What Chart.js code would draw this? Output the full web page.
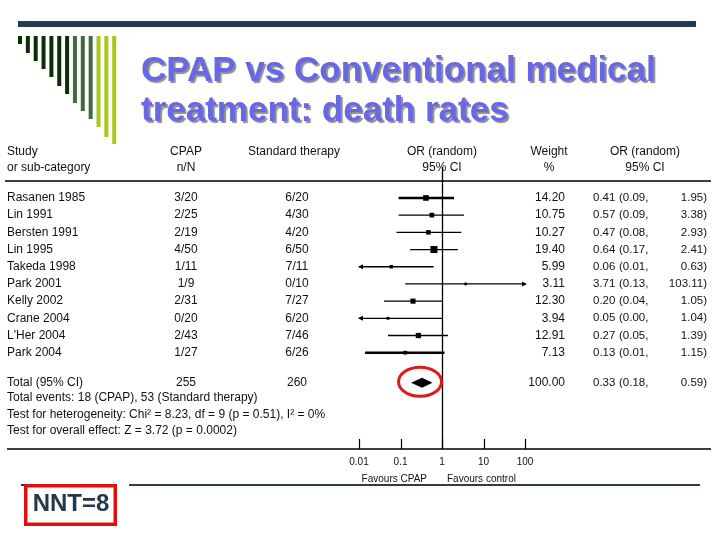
<!DOCTYPE html>
<html><head><meta charset="utf-8">
<script src="https://cdn.jsdelivr.net/npm/chart.js@4.4.0/dist/chart.umd.min.js"></script>
<style>html,body{margin:0;padding:0;background:#fff;}canvas{display:block;}</style>
</head><body>
<canvas id="c" width="720" height="540"></canvas>
<script>
// ---- data ----
const titleLines = ['CPAP vs Conventional medical', 'treatment: death rates'];
const studies = ['Rasanen 1985','Lin 1991','Bersten 1991','Lin 1995','Takeda 1998','Park 2001','Kelly 2002','Crane 2004',"L'Her 2004",'Park 2004'];
const cpapEvents = ['3/20','2/25','2/19','4/50','1/11','1/9','2/31','0/20','2/43','1/27'];
const stdEvents = ['6/20','4/30','4/20','6/50','7/11','0/10','7/27','6/20','7/46','6/26'];
const weights = [14.20,10.75,10.27,19.40,5.99,3.11,12.30,3.94,12.91,7.13];
const oddsRatios = [0.41,0.57,0.47,0.64,0.06,3.71,0.20,0.05,0.27,0.13];
const ciLower = [0.09,0.09,0.08,0.17,0.006,0.13,0.04,0.004,0.05,0.014];
const ciUpper = [1.95,3.38,2.93,2.41,0.63,103.11,1.05,1.04,1.39,1.15];
const totalLabel = 'Total (95% CI)';
const totalCpap = '255';
const totalStd = '260';
const totalWeight = 100.00;
const totalOR = 0.33;
const totalLower = 0.18;
const totalUpper = 0.59;
const footnotes = [
  'Total events: 18 (CPAP), 53 (Standard therapy)',
  'Test for heterogeneity: Chi\u00b2 = 8.23, df = 9 (p = 0.51), I\u00b2 = 0%',
  'Test for overall effect: Z = 3.72 (p = 0.0002)'
];
const tickValues = [0.01, 0.1, 1, 10, 100];
const tickLabels = ['0.01', '0.1', '1', '10', '100'];
const favourLabels = ['Favours CPAP', 'Favours control'];
const nntText = 'NNT=8';

// ---- layout constants ----
const FONT = '"Liberation Sans", Arial, sans-serif';
const xMin = 0.01, xMax = 100;
const TOTAL_ROW = 11.75;
const FOOT_ROWS = [12.63, 13.58, 14.56];

const datasets = [];
studies.forEach((s, i) => {
  datasets.push({
    type: 'line',
    data: [{x: Math.max(ciLower[i], xMin), y: i + 1}, {x: Math.min(ciUpper[i], xMax), y: i + 1}],
    borderColor: '#000',
    borderWidth: (i === 0 || i === 9) ? 2.4 : 1.3,
    pointRadius: 0,
    fill: false
  });
});
datasets.push({
  type: 'scatter',
  data: studies.map((s, i) => ({x: oddsRatios[i], y: i + 1})),
  pointStyle: 'rect',
  pointRadius: ctx => (1.8 + weights[ctx.dataIndex] * 0.27) / Math.SQRT2,
  backgroundColor: '#000',
  borderWidth: 0
});

const forestPlugin = {
  id: 'forest',
  beforeDraw(chart) {
    const ctx = chart.ctx;
    const xs = chart.scales.x;
    ctx.save();
    ctx.fillStyle = '#fff';
    ctx.fillRect(0, 0, 720, 540);
    // top bar
    ctx.fillStyle = '#243b55';
    ctx.fillRect(18, 21, 678, 6);
    // stripes
    const bottoms = [44,53,61,69,77,86,94,103,111,119,127,137,144];
    bottoms.forEach((b, i) => {
      ctx.fillStyle = i < 7 ? '#0b2e06' : (i < 10 ? '#3f6a3c' : '#a6c91c');
      ctx.fillRect(18 + i * 7.85, 36, 4, b - 36);
    });
    // title
    ctx.font = 'bold 35px ' + FONT;
    ctx.textBaseline = 'alphabetic';
    ctx.textAlign = 'left';
    ctx.shadowColor = 'rgba(130,130,130,0.9)';
    ctx.shadowOffsetX = 2; ctx.shadowOffsetY = 2; ctx.shadowBlur = 1;
    ctx.fillStyle = '#6868e6';
    ctx.fillText(titleLines[0], 141, 81);
    ctx.fillText(titleLines[1], 141, 121);
    ctx.shadowColor = 'transparent';
    ctx.shadowOffsetX = 0; ctx.shadowOffsetY = 0; ctx.shadowBlur = 0;

    // header text
    ctx.fillStyle = '#111';
    ctx.font = '12px ' + FONT;
    ctx.textBaseline = 'middle';
    ctx.textAlign = 'left';
    ctx.fillText('Study', 7, 152);
    ctx.fillText('or sub-category', 7, 168);
    ctx.textAlign = 'center';
    ctx.fillText('CPAP', 186, 152); ctx.fillText('n/N', 186, 168);
    ctx.fillText('Standard therapy', 294, 152);
    ctx.fillText('OR (random)', 442, 152); ctx.fillText('95% CI', 442, 168);
    ctx.fillText('Weight', 549, 152); ctx.fillText('%', 549, 168);
    ctx.fillText('OR (random)', 645, 152); ctx.fillText('95% CI', 645, 168);

    ctx.strokeStyle = '#000';
    ctx.lineWidth = 1.3;
    ctx.beginPath(); ctx.moveTo(5, 181); ctx.lineTo(711, 181); ctx.stroke();

    // axis line across full width
    const ca = chart.chartArea;
    ctx.beginPath(); ctx.moveTo(7, ca.bottom); ctx.lineTo(711, ca.bottom); ctx.stroke();
    // vertical line at OR = 1
    const x1 = Math.round(xs.getPixelForValue(1)) + 0.5;
    ctx.lineWidth = 1.3;
    ctx.beginPath(); ctx.moveTo(x1, ca.top); ctx.lineTo(x1, ca.bottom); ctx.stroke();
    // tick marks (upward)
    ctx.lineWidth = 1.2;
    tickValues.forEach(v => {
      const px = Math.round(xs.getPixelForValue(v)) + 0.5;
      ctx.beginPath(); ctx.moveTo(px, ca.bottom - 10); ctx.lineTo(px, ca.bottom); ctx.stroke();
    });
    // favours labels
    ctx.font = '10px ' + FONT;
    ctx.textBaseline = 'middle';
    ctx.textAlign = 'right';
    ctx.fillText(favourLabels[0], xs.getPixelForValue(1) - 15, 479);
    ctx.textAlign = 'left';
    ctx.fillText(favourLabels[1], xs.getPixelForValue(1) + 5, 479);

    // bottom line
    ctx.strokeStyle = '#2b3d4f';
    ctx.lineWidth = 2;
    ctx.beginPath(); ctx.moveTo(129, 485); ctx.lineTo(700, 485); ctx.stroke();
    ctx.beginPath(); ctx.moveTo(21, 485); ctx.lineTo(25, 485); ctx.stroke();
    // NNT box
    ctx.strokeStyle = '#e01010';
    ctx.lineWidth = 3.5;
    ctx.strokeRect(25.75, 485.75, 89.5, 38.5);
    ctx.fillStyle = '#23384d';
    ctx.font = 'bold 24px ' + FONT;
    ctx.textAlign = 'center';
    ctx.textBaseline = 'middle';
    ctx.fillText(nntText, 71, 504);
    ctx.restore();
  },
  afterDatasetsDraw(chart) {
    const ctx = chart.ctx;
    const xs = chart.scales.x, ys = chart.scales.y;
    ctx.save();
    // arrows for truncated CIs
    ctx.fillStyle = '#000';
    studies.forEach((s, i) => {
      const y = ys.getPixelForValue(i + 1);
      if (ciLower[i] < xMin) {
        const x = xs.getPixelForValue(xMin) - 1;
        ctx.beginPath(); ctx.moveTo(x, y); ctx.lineTo(x + 5, y - 2.5); ctx.lineTo(x + 5, y + 2.5); ctx.closePath(); ctx.fill();
      }
      if (ciUpper[i] > xMax) {
        const x = xs.getPixelForValue(xMax) + 2;
        ctx.beginPath(); ctx.moveTo(x, y); ctx.lineTo(x - 5, y - 2.5); ctx.lineTo(x - 5, y + 2.5); ctx.closePath(); ctx.fill();
      }
    });
    // total diamond
    const ty = ys.getPixelForValue(TOTAL_ROW);
    const tx = xs.getPixelForValue(totalOR);
    ctx.beginPath();
    ctx.moveTo(xs.getPixelForValue(totalLower), ty);
    ctx.lineTo(tx, ty - 5);
    ctx.lineTo(xs.getPixelForValue(totalUpper), ty);
    ctx.lineTo(tx, ty + 5);
    ctx.closePath();
    ctx.fill();
    // red ellipse
    ctx.strokeStyle = '#dd1a1a';
    ctx.lineWidth = 3;
    ctx.beginPath();
    ctx.ellipse(tx - 2, ty - 1, 21.5, 14.5, 0, 0, Math.PI * 2);
    ctx.stroke();

    // table text
    ctx.fillStyle = '#111';
    ctx.textBaseline = 'middle';
    const rowText = (y, name, c, st, w, or, lo, hi) => {
      ctx.font = '12px ' + FONT;
      ctx.textAlign = 'left'; ctx.fillText(name, 7, y);
      ctx.textAlign = 'center'; ctx.fillText(c, 186, y); ctx.fillText(st, 297, y);
      ctx.textAlign = 'right'; ctx.fillText(w.toFixed(2), 565, y);
      ctx.font = '11.5px ' + FONT;
      ctx.textAlign = 'left'; ctx.fillText(or.toFixed(2), 593, y);
      ctx.fillText('(' + lo.toFixed(2) + ',', 619, y);
      ctx.textAlign = 'right'; ctx.fillText(hi.toFixed(2) + ')', 707, y);
    };
    studies.forEach((s, i) => {
      rowText(ys.getPixelForValue(i + 1), s, cpapEvents[i], stdEvents[i], weights[i], oddsRatios[i], ciLower[i], ciUpper[i]);
    });
    rowText(ty, totalLabel, totalCpap, totalStd, totalWeight, totalOR, totalLower, totalUpper);
    ctx.font = '12px ' + FONT;
    ctx.textAlign = 'left';
    footnotes.forEach((f, i) => ctx.fillText(f, 7, ys.getPixelForValue(FOOT_ROWS[i])));
    ctx.restore();
  }
};

new Chart(document.getElementById('c'), {
  type: 'scatter',
  data: {datasets},
  plugins: [forestPlugin],
  options: {
    responsive: false,
    animation: false,
    events: [],
    layout: {padding: {left: 359, right: 195, top: 167, bottom: 51}},
    plugins: {legend: {display: false}, tooltip: {enabled: false}},
    scales: {
      x: {
        type: 'logarithmic', min: xMin, max: xMax, position: 'bottom',
        afterBuildTicks: s => { s.ticks = tickValues.map(v => ({value: v})); },
        afterFit: s => { s.height = 40; },
        grid: {display: false, drawTicks: false},
        border: {display: false},
        ticks: {
          callback: (v) => { const k = tickValues.indexOf(v); return k >= 0 ? tickLabels[k] : ''; },
          font: {size: 10, family: FONT}, color: '#111', padding: 7,
          maxRotation: 0, autoSkip: false
        }
      },
      y: {type: 'linear', reverse: true, min: -0.8, max: 15.6, display: false}
    }
  }
});
</script>
</body></html>
